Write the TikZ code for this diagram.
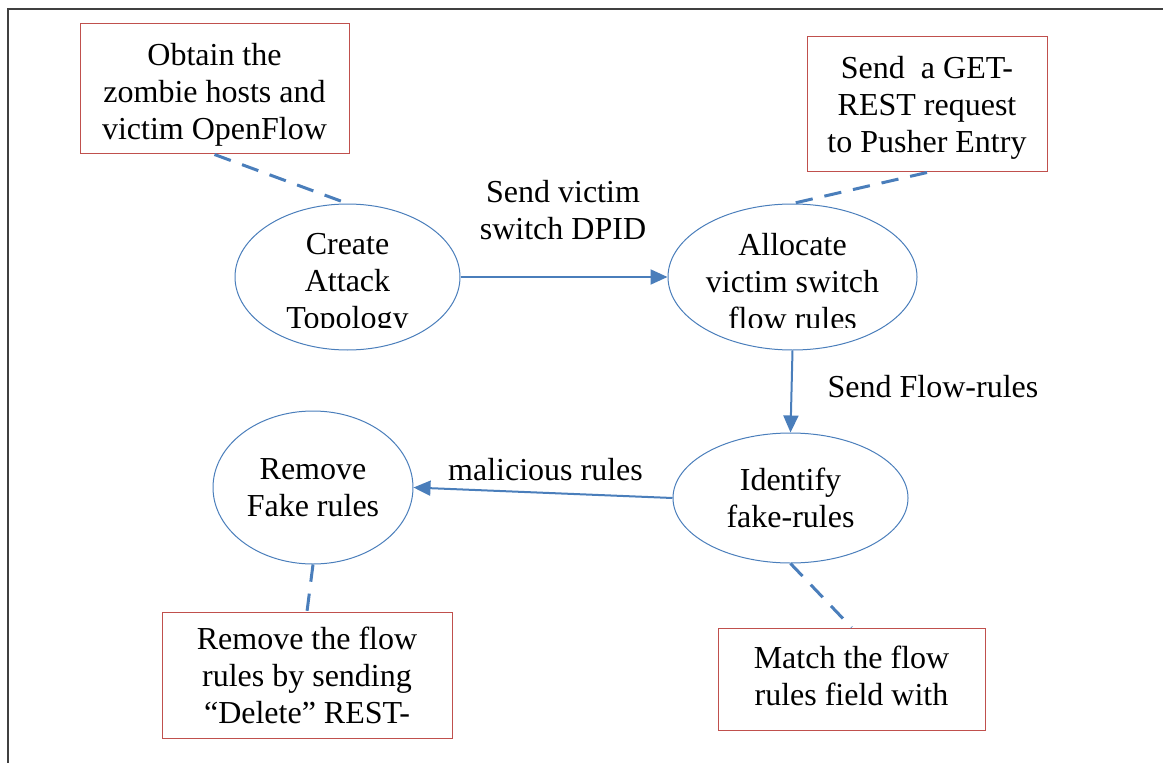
\documentclass[tikz,border=0pt]{standalone}
\usepackage{fontspec}
\setmainfont{Liberation Serif}
\usetikzlibrary{shapes.geometric,arrows.meta}

\definecolor{flowblue}{RGB}{74,126,187}
\definecolor{notered}{RGB}{192,80,77}

\tikzset{
  words/.style={font=\fontsize{24pt}{27.75pt}\selectfont, align=center, inner sep=0pt},
  phase/.style={ellipse, draw=flowblue, line width=0.75pt, words},
  note/.style={rectangle, draw=notered, line width=0.75pt, words},
  flow/.style={draw=flowblue, line width=1.5pt, -{Triangle[length=12.75pt,width=11.25pt]}},
  tie/.style={draw=flowblue, line width=2.25pt, dash pattern=on 13pt off 9pt},
}

\begin{document}
\begin{tikzpicture}[x=0.75pt,y=-0.75pt]
    \useasboundingbox (0,0) rectangle (1163,763);
    \draw[black!75,line width=1.5pt] (8,763) -- (8,9) -- (1163,9);

    % the four steps
    \node[phase,minimum width=168.75pt,minimum height=109.5pt] (create) at (347.5,277) {};
    \node[phase,minimum width=186.75pt,minimum height=109.5pt] (allocate) at (792.5,277) {};
    \node[phase,minimum width=176.25pt,minimum height=97.5pt] (identify) at (790.5,498) {Identify\\fake-rules};
    \node[phase,minimum width=150pt,minimum height=114.75pt] (fakes) at (313,487.5) {Remove\\Fake rules};

    % text of the first two steps is cut off at the bottom
    \begin{scope}
      \clip (230,200) rectangle (470,327);
      \node[words] (create-txt) at (347.5,284.7) {Create\\Attack\\Topology};
    \end{scope}
    \begin{scope}
      \clip (670,200) rectangle (915,327);
      \node[words] (allocate-txt) at (792.5,282) {Allocate\\victim switch\\flow rules};
    \end{scope}

    % notes
    \node[note,minimum width=201.75pt,minimum height=97.5pt] (obtain) at (214.5,89) {\rule{0pt}{25.4pt}Obtain the\\zombie hosts and\\victim OpenFlow};
    \node[note,minimum width=180pt,minimum height=101.25pt] (getrest) at (927,104.5) {\rule{0pt}{22.4pt}Send\ \ a GET-\\REST request\\to Pusher Entry};
    \node[note,minimum width=217.5pt,minimum height=94.5pt] (delrest) at (307,675) {Remove the flow\\rules by sending\\``Delete'' REST-};
    \node[note,minimum width=200.25pt,minimum height=76.5pt] (match) at (851.5,679) {Match the flow\\rules field with\rule[-4.5pt]{0pt}{4.5pt}};

    % links
    \draw[flow] (create.east) -- (allocate.west);
    \draw[flow] (allocate.south) -- (identify.north);
    \draw[flow] (identify.west) -- (fakes.east);
    \draw[tie] (obtain.south) -- (create.north);
    \draw[tie] (getrest.south) -- (allocate.north);
    \draw[tie] (fakes.south) -- (delrest.north);
    \draw[tie] (identify.south) -- (match.north);

    % labels
    \node[words] (dpid) at (563,210.5) {Send victim\\switch DPID};
    \node[words,anchor=base] (sendrules) at (933,397) {Send Flow-rules};
    \node[words,anchor=base] (malicious) at (545.5,480) {malicious rules};
  \end{tikzpicture}
\end{document}
